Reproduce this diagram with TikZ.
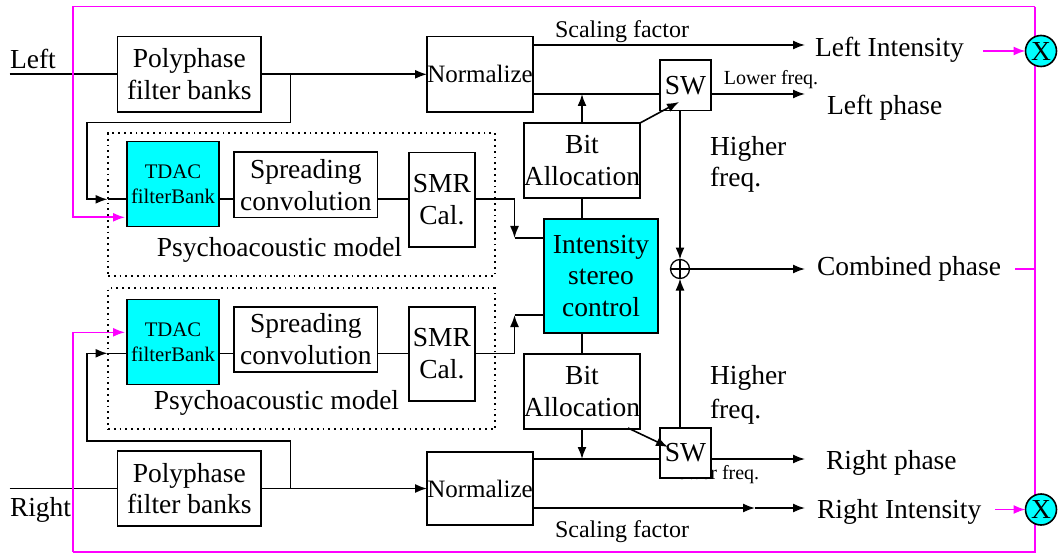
\documentclass[tikz,border=0pt]{standalone}
\usepackage{fontspec}
\setmainfont{Liberation Serif}
\usetikzlibrary{arrows.meta,calc}
\definecolor{aqua}{RGB}{0,255,255}
\definecolor{pinkline}{RGB}{255,0,255}
\newcommand\fsMain{\fontsize{27.5pt}{31.8pt}\selectfont}
\newcommand\fsNorm{\fontsize{25pt}{30pt}\selectfont}
\newcommand\fsScale{\fontsize{24pt}{28pt}\selectfont}
\newcommand\fsSmall{\fontsize{20pt}{24pt}\selectfont}
\newcommand\fsTdac{\fontsize{20.7pt}{25pt}\selectfont}
\begin{document}
\begin{tikzpicture}[x=1pt,y=-1pt,
  every node/.style={inner sep=0pt,outer sep=0pt},
  wire/.style={line width=1.6pt},
  arr/.style={wire,-{Latex[length=12pt,width=9pt]}},
  magwire/.style={line width=1.6pt,draw=pinkline},
  magarr/.style={magwire,-{Latex[length=12pt,width=9pt]}},
  blk/.style={draw,line width=1.6pt,fill=white,align=center,font=\fsMain},
  cyanblk/.style={blk,fill=aqua},
  region/.style={draw,line width=1.8pt,dash pattern=on 1.8pt off 4pt},
  lbl/.style={font=\fsMain},
  mult/.style={circle,draw,fill=aqua,line width=1.6pt,minimum size=31pt,font=\fsMain},
]
\useasboundingbox (0,0) rectangle (1059,553);

% ---- psychoacoustic model regions ----
\node[region,minimum width=387pt,minimum height=142.7pt] (dotL) at (301.5,204.6) {};
\node[region,minimum width=387pt,minimum height=141pt] (dotR) at (301.5,358.8) {};
\node[lbl] (psyL) at (279.5,250) {Psychoacoustic model};
\node[lbl] (psyR) at (276.5,403.3) {Psychoacoustic model};

% ---- left channel blocks ----
\node[blk,minimum width=143.4pt,minimum height=75.3pt] (polyL) at (189.3,74.3) {Polyphase\\filter banks};
\node[blk,font=\fsNorm,minimum width=106pt,minimum height=75.5pt] (normL) at (480,74.3) {Normalize};
\node[cyanblk,font=\fsTdac,minimum width=92pt,minimum height=85pt] (tdacL) at (173,184.2) {TDAC\\filterBank};
\node[blk,minimum width=143.6pt,minimum height=65.4pt] (spreadL) at (305.8,185) {Spreading\\convolution};
\node[blk,minimum width=66.3pt,minimum height=94.7pt] (smrL) at (441.9,199.7) {SMR\\Cal.};
\node[blk,minimum width=114pt,minimum height=75pt] (bitL) at (582,160.5) {Bit\\Allocation};

% ---- right channel blocks ----
\node[blk,minimum width=143.4pt,minimum height=75.3pt] (polyR) at (189.3,488.5) {Polyphase\\filter banks};
\node[blk,font=\fsNorm,minimum width=106pt,minimum height=73pt] (normR) at (480,488.5) {Normalize};
\node[cyanblk,font=\fsTdac,minimum width=92pt,minimum height=85pt] (tdacR) at (173,341.8) {TDAC\\filterBank};
\node[blk,minimum width=143.6pt,minimum height=65pt] (spreadR) at (305.8,339.2) {Spreading\\convolution};
\node[blk,minimum width=66.3pt,minimum height=94pt] (smrR) at (441.9,353.7) {SMR\\Cal.};
\node[blk,minimum width=114pt,minimum height=75pt] (bitR) at (582,391.5) {Bit\\Allocation};

% ---- shared control ----
\node[cyanblk,minimum width=114pt,minimum height=114pt] (isc) at (601,276) {Intensity\\stereo\\control};

% ---- channel inputs ----
\node[lbl,anchor=west] (inLtxt) at (10,59) {Left};
\node[lbl,anchor=west] (inRtxt) at (10,510) {Right};
\coordinate (inL) at (9.5,74.3);
\coordinate (inR) at (9.5,488.5);
\draw[wire] (inL) -- (polyL.west);
\draw[wire] (inR) -- (polyR.west);
\draw[arr] (polyL.east) -- (normL.west);
\draw[arr] (polyR.east) -- (normR.west);

% ---- taps into the psychoacoustic models ----
\coordinate (tapL) at (107.5,199.3);
\coordinate (tapR) at (107.5,353.3);
\draw[arr] (290.5,74.3) -- (290.5,122.7) -| (87,199.3) -- (tapL);
\draw[arr] (290.5,488.5) -- (290.5,440.7) -| (87,353.3) -- (tapR);
\draw[wire] (tapL) -- (tapL -| tdacL.west);
\draw[wire] (tapR) -- (tapR -| tdacR.west);
\draw[wire] (tapL -| tdacL.east) -- (tapL -| spreadL.west);
\draw[wire] (tapR -| tdacR.east) -- (tapR -| spreadR.west);
\draw[wire] (tapL -| spreadL.east) -- (tapL -| smrL.west);
\draw[wire] (tapR -| spreadR.east) -- (tapR -| smrR.west);

% ---- SMR into intensity stereo control ----
\coordinate (smrLin) at (514.5,238);
\coordinate (smrRin) at (514.5,315);
\draw[arr] (tapL -| smrL.east) -- (tapL -| smrLin) -- (smrLin);
\draw[wire] (smrLin) -- (smrLin -| isc.west);
\draw[arr] (tapR -| smrR.east) -- (tapR -| smrRin) -- (smrRin);
\draw[wire] (smrRin) -- (smrRin -| isc.west);

% ---- control to bit allocation ----
\draw[wire] (bitL.south) -- (bitL.south |- isc.north);
\draw[wire] (bitR.north |- isc.south) -- (bitR.north);

% ---- left outputs ----
\coordinate (sfL) at (533,45);
\coordinate (phL) at (533,94);
\coordinate (sfR) at (533,508);
\coordinate (phR) at (533,459);
\draw[arr] (sfL) -- (805,45);
\node[font=\fsScale] (sfLtxt) at (622,32) {Scaling factor};
\node[lbl,anchor=west] (liTxt) at (815,50) {Left Intensity};
\node[font=\fsSmall] (lfL) at (771,80) {Lower freq.};
\node[lbl,anchor=west] (lpTxt) at (827,108) {Left phase};
\draw[arr] (bitL.north) -- (bitL.north |- phL);

% ---- right outputs ----
\draw[arr] (sfR) -- (755,508);
\draw[arr] (755,508) -- (805,508);
\node[font=\fsScale] (sfRtxt) at (622,532) {Scaling factor};
\node[lbl,anchor=west] (riTxt) at (817,512) {Right Intensity};
\node[font=\fsSmall] (lfR) at (712,475) {Lower freq.};
\node[lbl,anchor=west] (rpTxt) at (826,463) {Right phase};
\draw[arr] (bitR.south) -- (bitR.south |- phR);

% ---- frequency switches ----
\node[blk,minimum width=51pt,minimum height=50.7pt] (swL) at (685.5,85.3) {SW};
\node[blk,minimum width=51pt,minimum height=50pt] (swR) at (685.5,453) {SW};
\draw[wire] (phL) -- (phL -| swL.west);
\draw[arr] (phL -| swL.east) -- (805,94);
\draw[wire] (phR) -- (phR -| swR.west);
\draw[arr] (phR -| swR.east) -- (805,459);
\draw[arr] (bitL.north east) -- (679,102);
\draw[arr] (628,428) -- (668,447);

% ---- combined phase ----
\node[circle,draw,line width=1.3pt,minimum size=19pt] (plus) at (680,269) {};
\draw[line width=1.3pt] (plus.north) -- (plus.south) (plus.west) -- (plus.east);
\draw[arr] (swL.south -| plus.north) -- (plus.north);
\draw[arr] (swR.north -| plus.south) -- (plus.south);
\draw[arr] (plus.east) -- (805,269);
\node[lbl,anchor=west] (cpTxt) at (817,269) {Combined phase};
\node[lbl,align=left,anchor=north west] (hfL) at (710,136) {Higher\\freq.};
\node[lbl,align=left,anchor=north west] (hfR) at (710,365.5) {Higher\\[1.7pt]freq.};

% ---- magenta feedback frame ----
\draw[magarr] (1035,6.7) -- (73,6.7) -- (73,217.3) -- (125,217.3);
\draw[magarr] (73,551.7) -- (73,332.3) -- (125,332.3);
\draw[magwire] (1035,6.7) -- (1035,551.7) -- (73,551.7);
\draw[magwire] (1015,269) -- (1035,269);
\node[mult] (xL) at (1041,51) {X};
\node[mult] (xR) at (1041,509.5) {X};
\draw[magarr] (983,51) -- (xL.west);
\draw[magarr] (995,509.5) -- (xR.west);
\end{tikzpicture}
\end{document}
